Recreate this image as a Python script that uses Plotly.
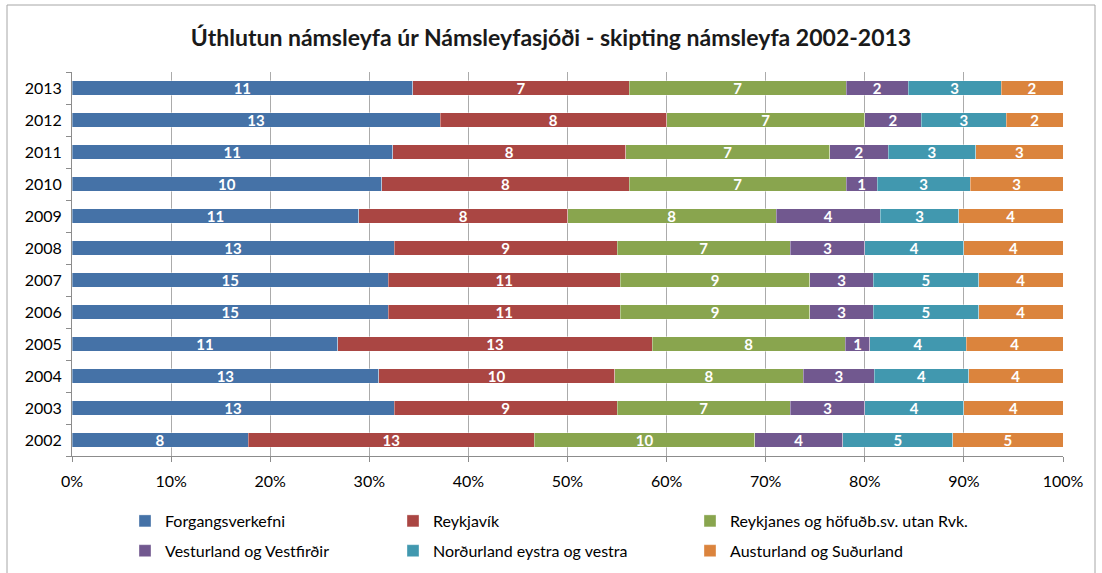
import plotly.graph_objects as go

years = [str(y) for y in range(2002, 2014)]
series_names = [
    "Forgangsverkefni",
    "Reykjavík",
    "Reykjanes og höfuðb.sv. utan Rvk.",
    "Vesturland og Vestfirðir",
    "Norðurland eystra og vestra",
    "Austurland og Suðurland",
]
forgangsverkefni = [8, 13, 13, 11, 15, 15, 13, 11, 10, 11, 13, 11]
reykjavik = [13, 9, 10, 13, 11, 11, 9, 8, 8, 8, 8, 7]
reykjanes = [10, 7, 8, 8, 9, 9, 7, 8, 7, 7, 7, 7]
vesturland = [4, 3, 3, 1, 3, 3, 3, 4, 1, 2, 2, 2]
nordurland = [5, 4, 4, 4, 5, 5, 4, 3, 3, 3, 3, 3]
austurland = [5, 4, 4, 4, 4, 4, 4, 4, 3, 3, 2, 2]
values = [forgangsverkefni, reykjavik, reykjanes, vesturland, nordurland, austurland]
colors = ["#4572A7", "#AA4643", "#89A54E", "#71588F", "#4198AF", "#DB843D"]
legend_ids = ["legend", "legend2", "legend3", "legend", "legend2", "legend3"]

FONT = "Lato"

fig = go.Figure()
for name, vals, col, lg in zip(series_names, values, colors, legend_ids):
    fig.add_trace(go.Bar(
        y=years, x=vals, name=name, orientation="h",
        marker=dict(color=col, line=dict(color="rgba(255,255,255,0.6)", width=0.6)),
        text=[str(v) for v in vals], texttemplate="%{text}",
        textposition="inside", insidetextanchor="middle", textangle=0,
        insidetextfont=dict(color="white", size=15, family=FONT, weight="bold"),
        legend=lg, legendgroup=name, hoverinfo="x+y+name",
    ))

W, H = 1102, 573
L, R, T, B = 72, 1063, 72, 456
def px(x):
    return (x - L) / (R - L)
def py(y):
    return (B - y) / (B - T)

leg_common = dict(orientation="v", yanchor="top", xanchor="left",
                  xref="container", yref="container",
                  font=dict(family=FONT, size=16, color="#000000"),
                  traceorder="grouped", tracegroupgap=6,
                  bgcolor="rgba(0,0,0,0)", itemclick=False)
fig.update_layout(
    width=W, height=H,
    margin=dict(l=L, r=W - R, t=T, b=H - B, autoexpand=False),
    barmode="stack", barnorm="percent", bargap=0.56,
    paper_bgcolor="white", plot_bgcolor="white",
    font=dict(family=FONT, size=16, color="#000000"),
    uniformtext=dict(minsize=15, mode="show"),
    title=dict(text="Úthlutun námsleyfa úr Námsleyfasjóði - skipting námsleyfa 2002-2013",
               x=0.5, xanchor="center", y=1 - 38 / H, yanchor="middle",
               font=dict(family=FONT, size=23, color="#1a1a1a", weight="bold")),
    xaxis=dict(range=[0, 100], dtick=10, ticksuffix="%", showgrid=True,
               gridcolor="#ababab", gridwidth=1, ticks="outside", ticklen=5,
               tickcolor="#8c8c8c", showline=True, linecolor="#8c8c8c",
               zeroline=False, ticklabelstandoff=6, fixedrange=True),
    yaxis=dict(type="category", categoryorder="array", categoryarray=years,
               tickson="boundaries", ticks="outside", ticklen=5, tickcolor="#8c8c8c",
               showline=True, linecolor="#8c8c8c", showgrid=False,
               ticklabelstandoff=6, fixedrange=True),
    legend=dict(x=125 / W, y=1 - 504 / H, **leg_common),
    legend2=dict(x=393 / W, y=1 - 504 / H, **leg_common),
    legend3=dict(x=690 / W, y=1 - 504 / H, **leg_common),
    showlegend=True,
)

# chart frame
frame = dict(type="line", xref="paper", yref="paper",
             line=dict(color="#a6a6a6", width=1))
fig.add_shape(x0=px(7), x1=px(7), y0=py(5), y1=py(573), **frame)
fig.add_shape(x0=px(1095), x1=px(1095), y0=py(5), y1=py(573), **frame)
fig.add_shape(x0=px(7), x1=px(1095), y0=py(5), y1=py(5), **frame)

fig.write_html("out.html", config={"displayModeBar": False},
               post_script="document.body.style.margin='0';document.body.style.overflow='hidden';")
